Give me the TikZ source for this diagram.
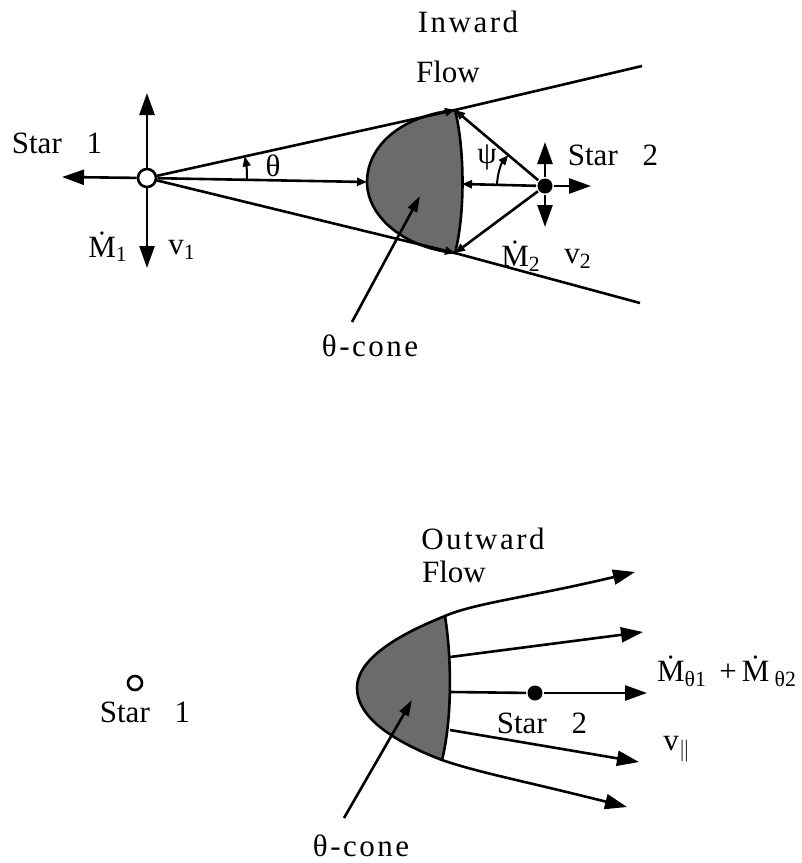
\documentclass[tikz,border=0pt]{standalone}
\usepackage{fontspec}
\setmainfont{Liberation Serif}
\usetikzlibrary{arrows.meta,angles,positioning}

\begin{document}
\begin{tikzpicture}[
    x=0.5pt, y=-0.5pt,
    line width=1.3pt,
    font=\fontsize{15.5}{18}\selectfont,
    arr/.style={-{Triangle[length=11pt,width=7.5pt]}},
    sarr/.style={-{Triangle[length=5pt,width=4pt]}},
    rsarr/.style={{Triangle[length=5pt,width=4pt]}-},
    parr/.style={-{Triangle[length=8pt,width=5pt]}},
    openstar/.style={circle, draw, fill=white, line width=1.3pt, minimum size=#1, inner sep=0pt},
    openstar/.default=9pt,
    solidstar/.style={circle, fill=black, minimum size=7.5pt, inner sep=0pt},
    cone/.style={fill=black!58},
    spaced/.style={font=\fontsize{15.5}{18}\selectfont\addfontfeature{LetterSpace=8}},
    lbl/.style={inner sep=1pt}
]
    \useasboundingbox (0,0) rectangle (802,863);

    % ---------------- Inward flow (top) ----------------
    \coordinate (tc)   at (455,110);   % upper corner of the cone
    \coordinate (bc)   at (455,253);   % lower corner of the cone
    \coordinate (cv)   at (367,182);   % cone vertex
    \coordinate (re)   at (462,184);   % cone right edge
    \coordinate (tend) at (642,66);
    \coordinate (bend) at (640,303);

    % shaded cone
    \fill[cone] (tc) .. controls (395,117) and (367,150) .. (cv)
                     .. controls (367,214) and (400,247) .. (bc)
                     .. controls (465,215) and (465,150) .. (tc);
    \draw (tc) .. controls (395,117) and (367,150) .. (cv)
               .. controls (367,214) and (400,247) .. (bc)
               .. controls (465,215) and (465,150) .. (tc);

    % stars
    \node[openstar]  (s1) at (147,178) {};
    \node[solidstar] (s2) at (545,186) {};

    \coordinate (s1up) at (147,93);
    \coordinate (s1dn) at (147,268);
    \coordinate (s1lt) at (62,177);
    \coordinate (s2up) at (545,142);
    \coordinate (s2dn) at (545,227);
    \coordinate (s2rt) at (591,186);

    \draw[arr] (s1) -- (s1up);
    \draw[arr] (s1) -- (s1dn);
    \draw[arr] (s1) -- (s1lt);
    \draw[arr] (s2) -- (s2up);
    \draw[arr] (s2) -- (s2dn);
    \draw[arr] (s2) -- (s2rt);

    % cone lines from star 1
    \draw[sarr] (s1) -- (tc);
    \draw (tc) -- (tend);
    \draw[sarr] (s1) -- (bc);
    \draw (bc) -- (bend);
    \draw[sarr] (s1) -- (cv);

    % lines from star 2
    \draw[sarr] (s2) -- (tc);
    \draw[sarr] (s2) -- (bc);
    \draw[sarr] (s2) -- (re);

    % angles
    \pic[draw, sarr, line width=1pt, angle radius=50pt] {angle=s2--s1--tc};
    \pic[draw, rsarr, line width=1pt, angle radius=24pt] {angle=tc--s2--s1};

    % labels
    \node[lbl] (theta) at (273,166) {θ};
    \node[lbl] (psi)   at (487,157) {ψ};
    \node[spaced] (inward) at (468,22) {Inward};
    \node (flow1) at (448,72) {Flow};
    \node (star1) at (57,143) {Star\hspace{0.8em}1};
    \node (star2) at (613,155) {Star\hspace{0.8em}2};
    \node (m1) at (108,247) {\.M\textsubscript{1}};
    \node (v1) at (182,250) {v\textsubscript{1}};
    \node (m2) at (521,256) {\.M\textsubscript{2}};
    \node (v2) at (578,259) {v\textsubscript{2}};

    \node[spaced] (cone1) at (370,346) {θ-cone};
    \coordinate (p1)  at (352,322);
    \coordinate (p1t) at (420,196);
    \draw[parr] (p1) -- (p1t);

    % ---------------- Outward flow (bottom) ----------------
    \coordinate (ut)  at (445,616);   % upper corner
    \coordinate (ub)  at (442,760);   % lower corner
    \coordinate (uv)  at (357,688);   % vertex
    \coordinate (t1)  at (635,572);
    \coordinate (t2)  at (643,632);
    \coordinate (t3)  at (647,693);
    \coordinate (t4)  at (639,762);
    \coordinate (t5)  at (627,807);
    \coordinate (m2s) at (450,657);
    \coordinate (m3s) at (451,692);
    \coordinate (m4s) at (450,730);

    \fill[cone] (ut) .. controls (395,636) and (357,660) .. (uv)
                     .. controls (357,718) and (395,742) .. (ub)
                     .. controls (452,720) and (452,660) .. (ut);
    \draw (ub) .. controls (452,720) and (452,660) .. (ut);

    % outer branches
    \draw[arr] (uv) .. controls (357,660) and (395,636) .. (ut)
                    .. controls (475,603) and (530,597) .. (t1);
    \draw[arr] (uv) .. controls (357,718) and (395,742) .. (ub)
                    .. controls (480,773) and (520,780) .. (t5);

    \node[openstar=7pt] (bs1) at (135,683) {};
    \node[solidstar]    (bs2) at (535,693) {};

    \draw[arr] (m2s) -- (t2);
    \draw (m3s) -- (bs2);
    \draw[arr] (bs2) -- (t3);
    \draw[arr] (m4s) -- (t4);

    \node[spaced] (outward) at (483,539) {Outward};
    \node (flow2) at (454,572) {Flow};
    \node (bstar1) at (145,712) {Star\hspace{0.8em}1};
    \node (bstar2) at (542,723) {Star\hspace{0.8em}2};
    \node (mdot) at (727,671) {\.M\textsubscript{θ1}\hspace{0.4em}+\,\.M\,\textsubscript{θ2}};
    \node (vpar) at (677,749) {v\textsubscript{$\parallel$}};

    \node[spaced] (cone2) at (361,846) {θ-cone};
    \coordinate (p2)  at (344,818);
    \coordinate (p2t) at (412,700);
    \draw[parr] (p2) -- (p2t);

\end{tikzpicture}
\end{document}
